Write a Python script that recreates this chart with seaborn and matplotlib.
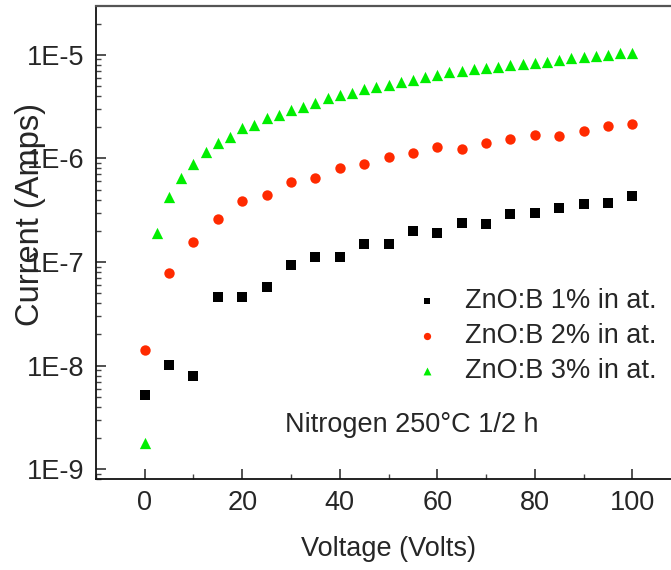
import numpy as np
import pandas as pd
import seaborn as sns
from matplotlib import pyplot as plt
from matplotlib.ticker import FuncFormatter, LogLocator, MultipleLocator, NullFormatter

# voltage steps (V)
volts_5 = np.arange(0, 101, 5)
volts_2p5 = np.arange(0, 100.1, 2.5)

# current (A)
cur_1pct = [5.2e-9, 1.02e-8, 8.0e-9, 4.55e-8, 4.55e-8, 5.8e-8, 9.3e-8, 1.12e-7, 1.12e-7,
            1.49e-7, 1.48e-7, 1.99e-7, 1.89e-7, 2.36e-7, 2.32e-7, 2.88e-7, 2.94e-7,
            3.29e-7, 3.6e-7, 3.68e-7, 4.3e-7]
cur_2pct = [1.41e-8, 7.8e-8, 1.55e-7, 2.58e-7, 3.87e-7, 4.45e-7, 5.87e-7, 6.5e-7, 8.1e-7,
            8.8e-7, 1.02e-6, 1.12e-6, 1.28e-6, 1.23e-6, 1.42e-6, 1.53e-6, 1.68e-6,
            1.64e-6, 1.84e-6, 2.05e-6, 2.13e-6]
cur_3pct = [1.79e-9, 1.91e-7, 4.26e-7, 6.41e-7, 8.75e-7, 1.16e-6, 1.40e-6, 1.62e-6, 1.95e-6,
            2.10e-6, 2.43e-6, 2.62e-6, 2.92e-6, 3.15e-6, 3.40e-6, 3.80e-6, 4.08e-6,
            4.24e-6, 4.63e-6, 4.91e-6, 5.10e-6, 5.49e-6, 5.70e-6, 6.14e-6, 6.37e-6,
            6.86e-6, 7.01e-6, 7.28e-6, 7.39e-6, 7.66e-6, 7.96e-6, 8.13e-6, 8.26e-6,
            8.56e-6, 8.88e-6, 9.23e-6, 9.57e-6, 9.71e-6, 9.93e-6, 1.03e-5, 1.05e-5]

labels = ["ZnO:B 1% in at.", "ZnO:B 2% in at.", "ZnO:B 3% in at."]
colors = ["#000000", "#ff2a00", "#00ee00"]
markers = ["s", "o", "^"]
sizes = [44, 56, 66]

sns.set_style("ticks")
plt.rcParams["font.family"] = ["Liberation Sans", "DejaVu Sans"]
plt.rcParams["font.size"] = 19.5

fig = plt.figure(figsize=(6.71, 5.70), dpi=100)
ax = fig.add_axes([0.143, 0.159, 0.872, 0.8296])

series = [(volts_5, cur_1pct), (volts_5, cur_2pct), (volts_2p5, cur_3pct)]
for (v, c), lab, col, mk, sz in zip(series, labels, colors, markers, sizes):
    df = pd.DataFrame({"voltage": v, "current": c})
    sns.scatterplot(data=df, x="voltage", y="current", marker=mk, color=col, s=sz,
                    linewidth=0, label=lab, ax=ax, legend=False)

ax.set_yscale("log")
ax.set_xlim(-10, 110)
ax.set_ylim(8.0e-10, 2.92e-5)

ax.xaxis.set_major_locator(MultipleLocator(20))
ax.xaxis.set_minor_locator(MultipleLocator(10))
ax.yaxis.set_major_locator(LogLocator(base=10))
ax.yaxis.set_minor_locator(LogLocator(base=10, subs=np.arange(2, 10)))
ax.yaxis.set_minor_formatter(NullFormatter())
ax.yaxis.set_major_formatter(FuncFormatter(lambda v, p: f"1E{int(round(np.log10(v)))}"))

ax.tick_params(axis="both", which="major", direction="in", length=7, width=1.1,
               labelsize=19.5, color="#222222")
ax.tick_params(axis="both", which="minor", direction="in", length=3.5, width=1.0,
               color="#444444")
ax.tick_params(axis="y", which="major", pad=8)
ax.tick_params(axis="x", which="major", pad=8)

for side in ["left", "bottom"]:
    ax.spines[side].set_linewidth(1.3)
    ax.spines[side].set_color("#111111")
ax.spines["top"].set_linewidth(1.6)
ax.spines["top"].set_color("#555555")
ax.spines["right"].set_visible(False)

ax.set_xlabel("Voltage (Volts)", fontsize=19.5)
ax.set_ylabel("Current (Amps)", fontsize=23.5)
ax.xaxis.set_label_coords(0.5, -0.12)
ax.yaxis.set_label_coords(-0.0855, 0.561)

ax.legend(loc="upper left", bbox_to_anchor=(0.547, 0.405), frameon=False,
          fontsize=19.5, handlelength=0.8, handletextpad=1.0, labelspacing=0.33,
          borderpad=0, borderaxespad=0, markerscale=0.7)

ax.text(0.323, 0.100, "Nitrogen 250°C 1/2 h", transform=ax.transAxes,
        fontsize=19.5, va="baseline", ha="left")

plt.savefig("out.png", dpi=100)
plt.close()
